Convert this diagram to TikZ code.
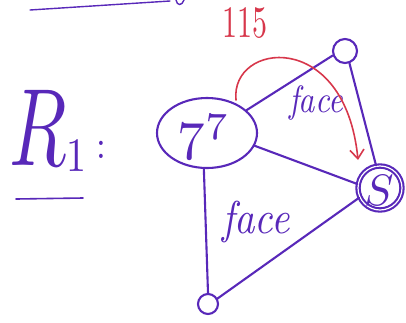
\documentclass[tikz,border=0pt]{standalone}
\usepackage{graphicx}
\usetikzlibrary{arrows.meta,shapes.geometric}
\definecolor{pen}{RGB}{88,40,185}
\definecolor{redpen}{RGB}{215,55,75}
\begin{document}
\begin{tikzpicture}[x=1pt,y=-1pt,
  stroke/.style={draw=pen,line width=2.1pt,line cap=round},
  vert/.style={stroke,circle,inner sep=0pt,minimum size=#1},
  ink/.style={text=pen,inner sep=0pt},
  redline/.style={draw=redpen,line width=1.6pt,line cap=round}]
\useasboundingbox (0,0) rectangle (406,322);
% top scribble
\draw[stroke,line width=1.4pt] (30,10) -- (170,1);
\draw[stroke,line width=1.4pt] (176,0) .. controls (177,6) and (182,6) .. (184,0);
% R_1 label
\node[ink] (R) at (38,128) {\scalebox{7.5}[11]{$R$}};
\node[ink] (R1) at (76,156) {\scalebox{4}[4.8]{1}};
\node[ink] (Rc) at (101,150) {\scalebox{3.5}[4]{:}};
\draw[stroke,line width=1.6pt] (16,199) -- (83,198);
% nodes
\node[stroke,ellipse,minimum width=100pt,minimum height=70pt,inner sep=0pt] (A) at (207,133) {};
\node[ink] (Atext) at (204,137) {\scalebox{5.5}{$7^{7}$}};
\node[vert=24pt] (T) at (345,51) {};
\node[stroke,circle,double=white,double distance=1.2pt,minimum size=44pt,inner sep=0pt] (S) at (380,188) {};
\node[ink] (Stext) at (379,190) {\scalebox{4.4}{$S$}};
\node[vert=20pt] (B) at (208,304) {};
% edges
\draw[stroke] (A.30) -- (T.200);
\draw[stroke] (T.-70) -- (S.100);
\draw[stroke] (A.-15) -- (S.170);
\draw[stroke] (A.-95) -- (B.90);
\draw[stroke] (B.30) -- (S.-155);
% face labels
\node[ink] (F1) at (316,103) {\scalebox{3.2}[3.8]{\itshape face}};
\node[ink] (F2) at (256,222) {\scalebox{4}[4.6]{\itshape face}};
% red arrow
\coordinate (r0) at (236,100);
\coordinate (r1) at (358,160);
\draw[redline,-{Straight Barb[length=9pt,width=14pt]}] (r0) .. controls (230,42) and (345,28) .. (r1);
\node[text=redpen,inner sep=0pt] (L) at (245,23) {\scalebox{3}[4.5]{115}};
\end{tikzpicture}
\end{document}
